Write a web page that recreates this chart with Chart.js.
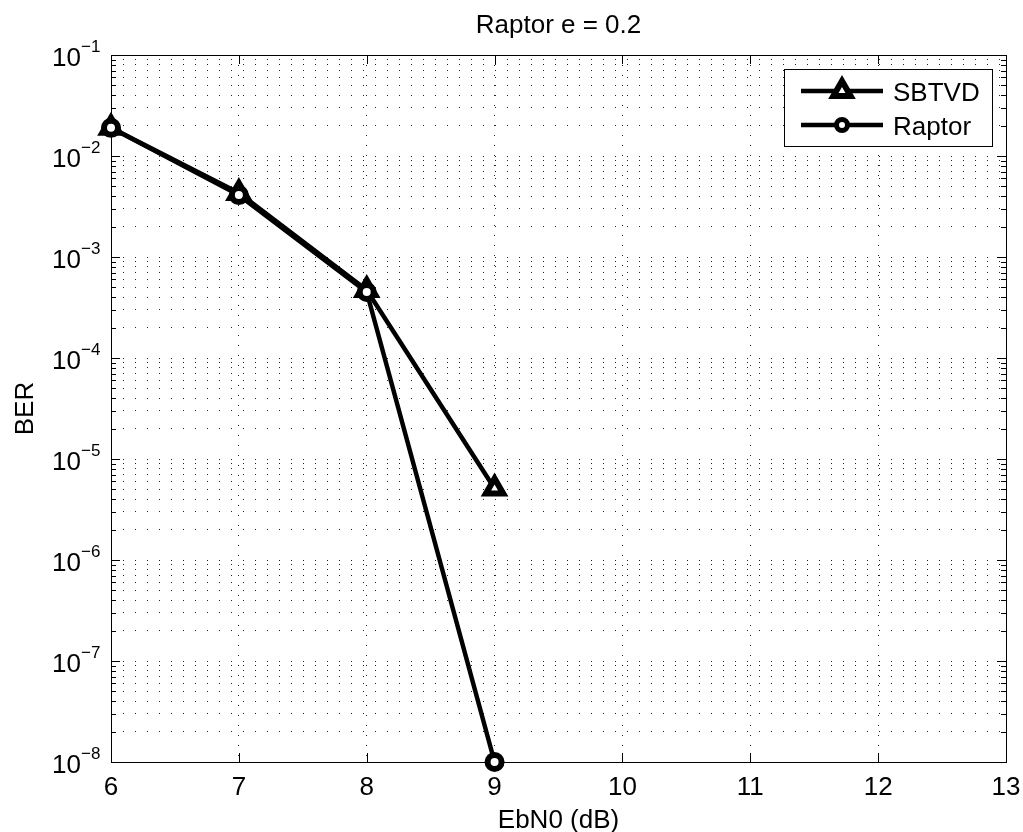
<!DOCTYPE html>
<html>
<head>
<meta charset="utf-8">
<title>Raptor e = 0.2</title>
<script src="https://cdn.jsdelivr.net/npm/chart.js@4.4.0/dist/chart.umd.min.js"></script>
<style>
  html, body { margin: 0; padding: 0; background: #fff; }
  #wrap { width: 1023px; height: 832px; }
</style>
</head>
<body>
<div id="wrap"><canvas id="berChart" width="1023" height="832"></canvas></div>
<script>
// data
const ebn0 = [6, 7, 8, 9];
const sbtvdBer = [1.9e-2, 4.3e-3, 4.7e-4, 5.1e-6];
const raptorBer = [1.9e-2, 4.1e-3, 4.5e-4, 1e-8];
const xTicks = [6, 7, 8, 9, 10, 11, 12, 13];
const yExponents = [-8, -7, -6, -5, -4, -3, -2, -1];
const seriesNames = ['SBTVD', 'Raptor'];
const titleText = 'Raptor e = 0.2';
const xLabel = 'EbN0 (dB)';
const yLabel = 'BER';

const FONT = '"Liberation Sans", Arial, Helvetica, sans-serif';

function toPoints(xs, ys) {
    return xs.map((x, i) => ({ x: x, y: ys[i] }));
}

// grid lines at 1..9 x 10^k in every decade, plus the top one
function logGridValues() {
    const vals = [];
    yExponents.slice(0, -1).forEach(e => {
        for (let m = 1; m < 10; m++) vals.push(m * Math.pow(10, e));
    });
    vals.push(Math.pow(10, yExponents[yExponents.length - 1]));
    return vals;
}

function drawText(ctx, text, x, y, size, align) {
    ctx.font = size + 'px ' + FONT;
    ctx.textAlign = align;
    ctx.textBaseline = 'alphabetic';
    ctx.fillStyle = '#000';
    ctx.fillText(text, x, y);
}

function drawTriangle(ctx, cx, cy, r) {
    ctx.beginPath();
    for (let i = 0; i < 3; i++) {
        const a = -Math.PI / 2 + i * 2 * Math.PI / 3;
        const px = cx + Math.cos(a) * r, py = cy + Math.sin(a) * r;
        if (i === 0) ctx.moveTo(px, py); else ctx.lineTo(px, py);
    }
    ctx.closePath();
    ctx.fill();
    ctx.stroke();
}

function drawCircle(ctx, cx, cy, r) {
    ctx.beginPath();
    ctx.arc(cx, cy, r, 0, Math.PI * 2);
    ctx.fill();
    ctx.stroke();
}

// matlab style box, inside ticks, labels and legend
const matlabAxes = {
    id: 'matlabAxes',
    beforeDatasetsDraw(chart) {
        const { ctx, chartArea: a, scales: { x, y } } = chart;
        ctx.save();
        ctx.strokeStyle = '#000';
        ctx.lineWidth = 1;
        ctx.beginPath();
        y.ticks.forEach(t => {
            const py = Math.round(y.getPixelForValue(t.value)) + 0.5;
            const lg = Math.log10(t.value);
            const len = Math.abs(lg - Math.round(lg)) < 1e-6 ? 9 : 5;
            ctx.moveTo(a.left, py); ctx.lineTo(a.left + len, py);
            ctx.moveTo(a.right, py); ctx.lineTo(a.right - len, py);
        });
        x.ticks.forEach(t => {
            const px = Math.round(x.getPixelForValue(t.value)) + 0.5;
            ctx.moveTo(px, a.bottom); ctx.lineTo(px, a.bottom - 9);
            ctx.moveTo(px, a.top); ctx.lineTo(px, a.top + 9);
        });
        ctx.stroke();
        ctx.strokeRect(Math.round(a.left) + 0.5, Math.round(a.top) + 0.5,
            Math.round(a.right - a.left), Math.round(a.bottom - a.top));
        ctx.restore();
    },
    afterDraw(chart) {
        const { ctx, chartArea: a, scales: { x, y } } = chart;
        ctx.save();
        const midX = (a.left + a.right) / 2;

        drawText(ctx, titleText, midX, 33, 26, 'center');
        drawText(ctx, xLabel, midX, 828, 26, 'center');

        ctx.save();
        ctx.translate(33, (a.top + a.bottom) / 2);
        ctx.rotate(-Math.PI / 2);
        drawText(ctx, yLabel, 0, 0, 26, 'center');
        ctx.restore();

        xTicks.forEach(v => {
            drawText(ctx, String(v), x.getPixelForValue(v), a.bottom + 33, 26, 'center');
        });

        yExponents.forEach(e => {
            const py = y.getPixelForValue(Math.pow(10, e));
            drawText(ctx, '10', 81, py + 11, 26, 'right');
            drawText(ctx, (e < 0 ? '\u2212' : '') + Math.abs(e), 81, py - 3, 17, 'left');
        });

        // legend
        ctx.fillStyle = '#fff';
        ctx.fillRect(784, 69, 208, 77);
        ctx.strokeStyle = '#000';
        ctx.lineWidth = 1;
        ctx.strokeRect(784.5, 69.5, 208, 77);
        const rows = [91, 125];
        rows.forEach((ly, i) => {
            ctx.strokeStyle = '#000';
            ctx.lineWidth = 4.5;
            ctx.beginPath();
            ctx.moveTo(801, ly); ctx.lineTo(883, ly);
            ctx.stroke();
            ctx.fillStyle = '#fff';
            if (i === 0) {
                ctx.lineWidth = 6;
                drawTriangle(ctx, 842, ly, 10);
            } else {
                ctx.lineWidth = 5;
                drawCircle(ctx, 842, ly, 5.5);
            }
            drawText(ctx, seriesNames[i], 893, ly + 10, 26, 'left');
        });
        ctx.restore();
    }
};

const berChart = new Chart(document.getElementById('berChart'), {
    type: 'line',
    data: {
        datasets: [{
            label: seriesNames[0],
            data: toPoints(ebn0, sbtvdBer),
            borderColor: '#000',
            borderWidth: 4.5,
            pointStyle: 'triangle',
            pointRadius: 10,
            pointBorderWidth: 6,
            pointBackgroundColor: '#fff',
            pointBorderColor: '#000',
            tension: 0,
            clip: false,
            order: 2
        }, {
            label: seriesNames[1],
            data: toPoints(ebn0, raptorBer),
            borderColor: '#000',
            borderWidth: 4.5,
            pointStyle: 'circle',
            pointRadius: 7,
            pointBorderWidth: 6,
            pointBackgroundColor: '#fff',
            pointBorderColor: '#000',
            tension: 0,
            clip: false,
            order: 1
        }]
    },
    options: {
        responsive: false,
        animation: false,
        events: [],
        layout: { padding: { top: 55, right: 17, left: 0, bottom: 0 } },
        plugins: {
            legend: { display: false },
            title: { display: false },
            tooltip: { enabled: false }
        },
        scales: {
            x: {
                type: 'linear',
                min: 6,
                max: 13,
                ticks: { display: false, stepSize: 1 },
                grid: { color: '#222', lineWidth: 1, drawTicks: false },
                border: { display: false, dash: [1, 9] },
                afterFit: s => { s.height = 70; }
            },
            y: {
                type: 'logarithmic',
                min: 1e-8,
                max: 1e-1,
                ticks: { display: false, autoSkip: false },
                grid: { color: '#222', lineWidth: 1, drawTicks: false },
                border: { display: false, dash: [1, 11] },
                afterBuildTicks: s => { s.ticks = logGridValues().map(v => ({ value: v })); },
                afterFit: s => { s.width = 111; }
            }
        }
    },
    plugins: [matlabAxes]
});
</script>
</body>
</html>
